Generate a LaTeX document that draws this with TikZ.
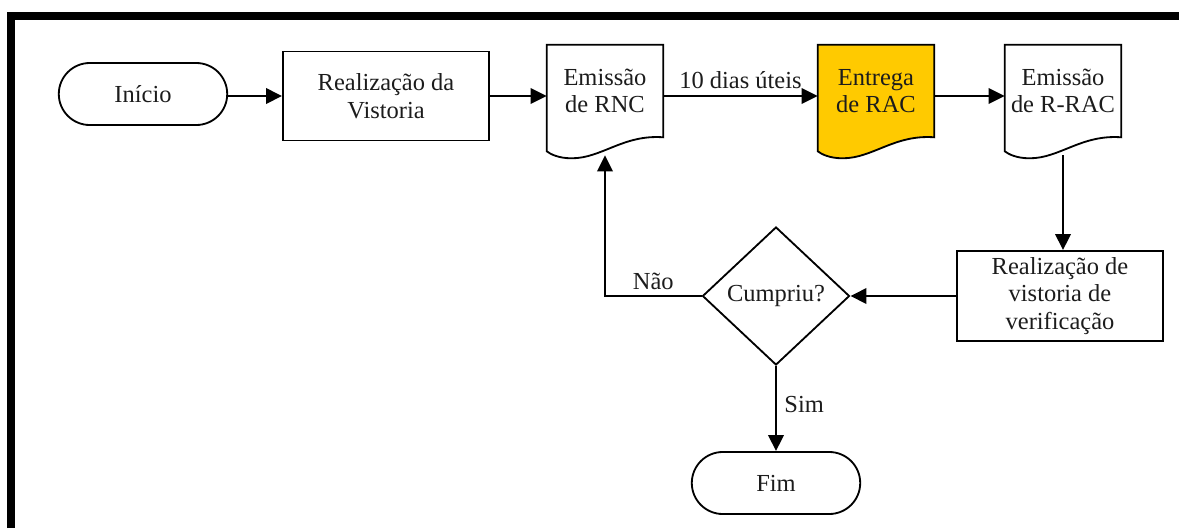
\documentclass[tikz,border=0pt]{standalone}
\usepackage{fontspec}
\setmainfont{Liberation Serif}
\usepackage{xcolor}
\usetikzlibrary{calc, positioning, shapes.geometric, shapes.misc, arrows.meta, backgrounds}

\definecolor{racgold}{HTML}{FFCA00}
\definecolor{ink}{HTML}{1C1C1C}

\begin{document}
\begin{tikzpicture}[x=0.025cm, y=-0.025cm,
        font=\fontsize{17.4}{19.5}\selectfont, text=ink,
        box/.style={draw, line width=1.3pt, align=center, inner sep=2pt},
        terminal/.style={box, rounded rectangle, minimum width=4.35cm, minimum height=1.55cm},
        process/.style={box, rectangle, minimum width=5.15cm, minimum height=2.25cm},
        doc/.style={align=center, minimum width=2.9cm, minimum height=2.3cm, inner sep=0pt},
        decision/.style={box, diamond, minimum width=3.675cm, minimum height=3.45cm, inner sep=0pt},
        flow/.style={line width=2pt, -{Triangle[length=0.4cm, width=0.38cm]}}
    ]

    % document symbol drawn behind a named node, with a wavy foot
    \NewDocumentCommand{\docshape}{ m m }{
        \begin{scope}[on background layer]
            \draw[line width=1.3pt, fill=#2] (#1.north west) -- (#1.north east) -- (#1.south east)
            .. controls ($(#1.south east)+(-40,-3)$) and ($(#1.south west)+(55,21)$) .. ($(#1.south west)+(25,21)$)
            .. controls ($(#1.south west)+(12,21)$) and ($(#1.south west)+(4,17)$) .. ($(#1.south west)+(0,14)$)
            -- cycle;
        \end{scope}
        \coordinate (#1-foot) at ($(#1.south)+(0,18)$);
    }

    \useasboundingbox (0,0) rectangle (1179,528);

    %% Frame
    \draw[line width=0.2cm] (11,528) -- (11,16) -- (1179,16);

    %% Nodes
    \node[terminal] (inicio) at (143,94) {Início};
    \node[process, minimum height=2.225cm] (vistoria) at (386,96) {Realização da\\Vistoria};
    \node[doc] (rnc) at (605,91) {Emissão\\de RNC};
    \node[doc] (rac) at (876,91) {Entrega\\de RAC};
    \node[doc] (rrac) at (1063,91) {Emissão\\de R-RAC};
    \node[process] (verif) at (1060,296) {Realização de\\vistoria de\\verificação};
    \node[decision] (cumpriu) at (776,296) {Cumpriu?};
    \node[terminal] (fim) at (776,483) {Fim};

    \docshape{rnc}{white}
    \docshape{rac}{racgold}
    \docshape{rrac}{white}

    %% Connectors
    \foreach \a/\b in {inicio/vistoria, vistoria/rnc, rac/rrac}
    \draw[flow] (\a.east |- vistoria) -- (\b.west |- vistoria);
    \draw[flow] (rnc.east |- vistoria) -- node[above, inner sep=4pt] {10 dias úteis} (rac.west |- vistoria);
    \draw[flow] (rrac-foot) -- (rrac-foot |- verif.north);
    \draw[flow] (verif.west) -- (cumpriu.east);
    \draw[flow] (cumpriu.west) -| node[pos=0.25, above] {Não} (rnc-foot);
    \draw[flow] (cumpriu.south) -- node[pos=0.45, right, inner sep=5pt] {Sim} (fim.north);

\end{tikzpicture}
\end{document}
